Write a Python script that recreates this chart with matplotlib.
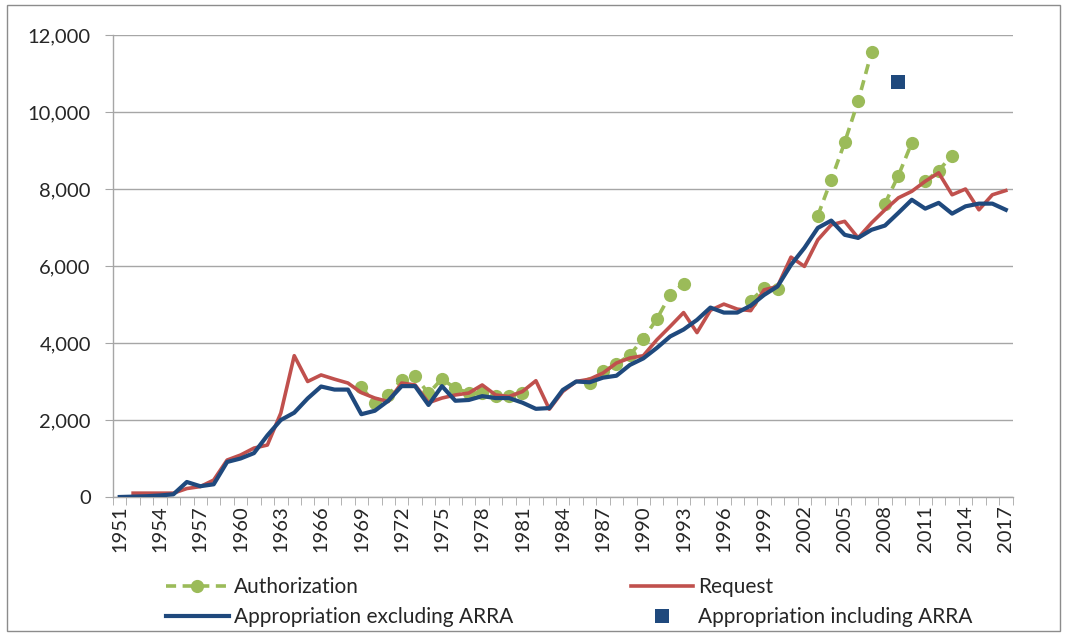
import matplotlib.pyplot as plt
import matplotlib.patches as mpatches
from matplotlib.ticker import FuncFormatter, FixedLocator
import numpy as np

# values (millions)
years = list(range(1951, 2018))

appropriation = [
    0, 10, 20, 40, 70, 390, 280, 330, 910, 1000,
    1140, 1600, 2000, 2190, 2560, 2870, 2790, 2790, 2150, 2240,
    2500, 2880, 2880, 2390, 2880, 2500, 2520, 2620, 2570, 2570,
    2450, 2290, 2310, 2780, 3000, 2980, 3100, 3150, 3430, 3600,
    3870, 4170, 4350, 4600, 4920, 4790, 4790, 4970, 5250, 5470,
    6030, 6470, 6990, 7180, 6810, 6730, 6940, 7050, 7380, 7720,
    7490, 7640, 7360, 7550, 7620, 7620, 7460,
]

request_years = list(range(1952, 2018))
request = [
    100, 100, 100, 100, 220, 270, 440, 960, 1090,
    1270, 1350, 2180, 3670, 3000, 3170, 3060, 2960, 2710, 2570,
    2480, 2960, 2910, 2450, 2570, 2650, 2700, 2910, 2650, 2610,
    2740, 3020, 2280, 2740, 3000, 3060, 3220, 3480, 3610, 3670,
    4080, 4430, 4790, 4270, 4850, 5010, 4880, 4840, 5380, 5470,
    6230, 5990, 6680, 7070, 7160, 6730, 7120, 7460, 7770, 7940,
    8200, 8420, 7850, 8000, 7460, 7850, 7960,
]

# authorization acts: each run starts at a given year
auth_start = [1969, 1986, 1998, 2003, 2008, 2011]
auth_values = [
    [2850, 2440, 2650, 3040, 3140, 2690, 3070, 2820, 2710, 2700, 2630, 2630, 2710],
    [2950, 3260, 3450, 3690, 4110, 4620, 5250, 5540],
    [5100, 5420, 5400],
    [7310, 8240, 9210, 10280, 11550],
    [7620, 8350, 9200],
    [8200, 8480, 8870],
]

arra_year = [2009]
arra_value = [10780]

label_years = list(range(1951, 2018, 3))

C_GREEN = '#9BBB59'
C_RED = '#C0504D'
C_BLUE = '#1F497D'
C_GRID = '#A6A6A6'
C_TEXT = '#262626'

plt.rcParams['font.family'] = ['Lato', 'DejaVu Sans']

fig = plt.figure(figsize=(10.67, 6.33), dpi=100)
ax = fig.add_axes([113 / 1067, 1 - 497 / 633, (1012.5 - 113) / 1067, 462 / 633])

# outer chart border
fig.patches.append(mpatches.Rectangle((7 / 1067, 2 / 633), 1053 / 1067, 626 / 633,
                                      transform=fig.transFigure, fill=False,
                                      edgecolor='#8C8C8C', linewidth=1.0))

auth_line = None
for start, vals in zip(auth_start, auth_values):
    xs = list(range(start, start + len(vals)))
    auth_line, = ax.plot(xs, vals, color=C_GREEN, linewidth=2.6, linestyle=(0, (2.8, 1.8)),
                         marker='o', markersize=9.5, markeredgewidth=0, zorder=2)

req_line, = ax.plot(request_years, request, color=C_RED, linewidth=2.6, zorder=3)
app_line, = ax.plot(years, appropriation, color=C_BLUE, linewidth=3.0, zorder=4)
arra_pt, = ax.plot(arra_year, arra_value, linestyle='none', marker='s', markersize=10,
                   color=C_BLUE, markeredgewidth=0, zorder=5)

ax.set_xlim(1950.5, 2017.5)
ax.set_ylim(0, 12000)
ax.set_yticks(np.arange(0, 12001, 2000))
ax.yaxis.set_major_formatter(FuncFormatter(lambda v, p: f'{int(v):,}'))
ax.grid(axis='y', color=C_GRID, linewidth=1.0, zorder=0)
ax.set_axisbelow(True)

ax.xaxis.set_major_locator(FixedLocator(label_years))
ax.xaxis.set_minor_locator(FixedLocator(np.arange(1950.5, 2018, 1)))
ax.set_xticklabels([str(y) for y in label_years], rotation=90, fontsize=14.5)
ax.tick_params(axis='x', which='major', length=0, pad=6)
ax.tick_params(axis='x', which='minor', length=6, color=C_GRID, direction='out')
ax.tick_params(axis='y', length=6, color=C_GRID, labelsize=14.5, pad=10)
ax.tick_params(axis='both', labelcolor=C_TEXT)

for side in ('top', 'right'):
    ax.spines[side].set_visible(False)
for side in ('left', 'bottom'):
    ax.spines[side].set_color(C_GRID)
    ax.spines[side].set_linewidth(1.0)

fig.legend([auth_line, app_line, req_line, arra_pt],
           ['Authorization', 'Appropriation excluding ARRA', 'Request', 'Appropriation including ARRA'],
           loc='upper left', bbox_to_anchor=(166 / 1067, 1 - 577 / 633), ncol=2,
           frameon=False, fontsize=15, handlelength=3.0, handletextpad=0.25,
           columnspacing=5.65, labelspacing=0.5, borderpad=0, borderaxespad=0,
           numpoints=1, labelcolor=C_TEXT)

fig.savefig('out.png', dpi=100)
